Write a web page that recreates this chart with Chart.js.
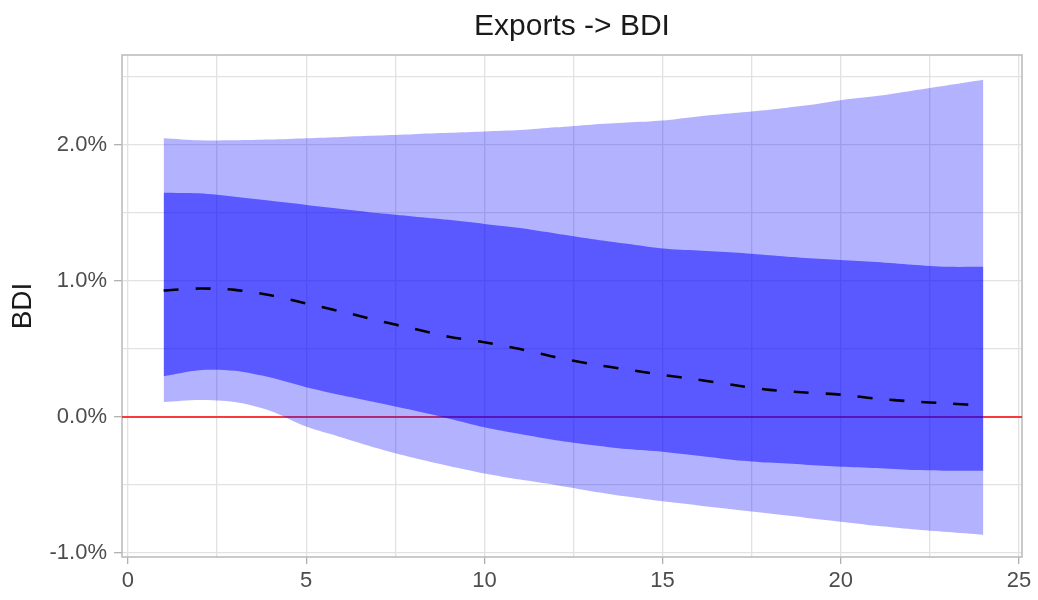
<!DOCTYPE html>
<html lang="en">
<head>
  <meta charset="UTF-8" />
  <title>Exports -> BDI</title>
  <script src="https://cdn.jsdelivr.net/npm/chart.js"></script>
  <style>
    body {
      margin: 0;
      background: #fff;
      font-family: "Liberation Sans", Arial, sans-serif;
    }
    .chart-container {
      width: 1038px;
      height: 600px;
    }
  </style>
</head>
<body>
  <div class="chart-container">
    <canvas id="irf"></canvas>
  </div>

  <script>
    const chartTitle = 'Exports -> BDI';

    // horizon (periods after the shock)
    const horizon = [1, 2, 3, 4, 5, 6, 7, 8, 9, 10, 11, 12, 13, 14, 15, 16, 17, 18, 19, 20, 21, 22, 23, 24];

    // impulse response, in %
    const irf = [0.93, 0.945, 0.935, 0.895, 0.835, 0.775, 0.71, 0.65, 0.59, 0.55, 0.50, 0.44,
                 0.39, 0.35, 0.31, 0.275, 0.235, 0.20, 0.18, 0.165, 0.135, 0.115, 0.10, 0.085];

    // wide band
    const outerUpper = [2.05, 2.035, 2.035, 2.04, 2.05, 2.06, 2.07, 2.08, 2.09, 2.10, 2.11, 2.13,
                        2.15, 2.165, 2.18, 2.21, 2.235, 2.26, 2.29, 2.33, 2.36, 2.40, 2.44, 2.48];
    const outerLower = [0.11, 0.125, 0.11, 0.045, -0.07, -0.15, -0.23, -0.30, -0.36, -0.415, -0.46, -0.50,
                        -0.545, -0.585, -0.62, -0.65, -0.68, -0.71, -0.74, -0.77, -0.80, -0.825, -0.845, -0.865];

    // narrow band
    const innerUpper = [1.65, 1.645, 1.62, 1.59, 1.56, 1.53, 1.50, 1.475, 1.45, 1.42, 1.39, 1.35,
                        1.31, 1.275, 1.24, 1.225, 1.21, 1.19, 1.17, 1.155, 1.14, 1.12, 1.105, 1.105];
    const innerLower = [0.30, 0.345, 0.34, 0.29, 0.22, 0.16, 0.105, 0.05, -0.01, -0.075, -0.125, -0.17,
                        -0.205, -0.235, -0.255, -0.285, -0.315, -0.335, -0.35, -0.365, -0.375, -0.39, -0.395, -0.395];

    const xTicks = [0, 5, 10, 15, 20, 25];
    const yTicks = [-1, 0, 1, 2];

    const xy = arr => horizon.map((h, i) => ({ x: h, y: arr[i] }));
    const FONT = '"Liberation Sans", Arial, sans-serif';

    // gray frame around the plot panel + title centred over the panel
    const panelDecor = {
      id: 'panelDecor',
      beforeDatasetsDraw(chart) {
        const { ctx, chartArea: a } = chart;
        ctx.save();
        ctx.strokeStyle = '#bdbdbd';
        ctx.lineWidth = 1.6;
        ctx.strokeRect(a.left, a.top, a.right - a.left, a.bottom - a.top);
        ctx.restore();
      },
      afterDraw(chart) {
        const { ctx, chartArea: a } = chart;
        ctx.save();
        ctx.fillStyle = '#1a1a1a';
        ctx.font = '30px ' + FONT;
        ctx.textAlign = 'center';
        ctx.textBaseline = 'alphabetic';
        ctx.fillText(chartTitle, (a.left + a.right) / 2, 35);
        ctx.restore();
      }
    };

    const isMajor = (v, list) => list.some(t => Math.abs(t - v) < 1e-6);

    new Chart(document.getElementById('irf').getContext('2d'), {
      type: 'line',
      data: {
        datasets: [
          {
            data: xy(outerLower),
            borderWidth: 0,
            pointRadius: 0,
            fill: false,
            tension: 0.3,
            order: 5
          },
          {
            data: xy(outerUpper),
            borderWidth: 0,
            pointRadius: 0,
            fill: '-1',
            backgroundColor: 'rgba(0, 0, 255, 0.3)',
            tension: 0.3,
            order: 5
          },
          {
            data: xy(innerLower),
            borderWidth: 0,
            pointRadius: 0,
            fill: false,
            tension: 0.3,
            order: 3
          },
          {
            data: xy(innerUpper),
            borderWidth: 0,
            pointRadius: 0,
            fill: '-1',
            backgroundColor: 'rgba(0, 0, 255, 0.5)',
            tension: 0.3,
            order: 3
          },
          {
            data: xy(irf),
            borderColor: '#000',
            borderWidth: 2.6,
            borderDash: [15, 17],
            pointRadius: 0,
            fill: false,
            tension: 0.3,
            order: 0
          },
          {
            // zero line, drawn under the bands
            data: [{ x: -1, y: 0 }, { x: 26, y: 0 }],
            borderColor: '#ff0000',
            borderWidth: 1.5,
            pointRadius: 0,
            fill: false,
            order: 10
          }
        ]
      },
      options: {
        responsive: true,
        maintainAspectRatio: false,
        animation: false,
        layout: { padding: { left: 0, right: 16, top: 55, bottom: 0 } },
        scales: {
          x: {
            type: 'linear',
            min: -0.168,
            max: 25.084,
            afterFit: s => { s.height = 43; },
            border: { display: false },
            grid: {
              color: '#e2e2e2',
              lineWidth: 1.3,
              tickLength: 7,
              tickColor: c => isMajor(c.tick.value, xTicks) ? '#b0b0b0' : 'rgba(0,0,0,0)',
              tickWidth: 1.3
            },
            ticks: {
              stepSize: 2.5,
              includeBounds: false,
              autoSkip: false,
              maxRotation: 0,
              padding: 4,
              color: '#4d4d4d',
              font: { family: FONT, size: 22 },
              callback: v => isMajor(v, xTicks) ? String(v) : ''
            }
          },
          y: {
            min: -1.029,
            max: 2.662,
            afterFit: s => { s.width = 122; },
            border: { display: false },
            grid: {
              color: '#e2e2e2',
              lineWidth: 1.3,
              tickLength: 8,
              tickColor: c => isMajor(c.tick.value, yTicks) ? '#b0b0b0' : 'rgba(0,0,0,0)',
              tickWidth: 1.3
            },
            ticks: {
              stepSize: 0.5,
              includeBounds: false,
              autoSkip: false,
              padding: 7,
              color: '#4d4d4d',
              font: { family: FONT, size: 22 },
              callback: v => isMajor(v, yTicks) ? v.toFixed(1) + '%' : ''
            },
            title: {
              display: true,
              text: 'BDI',
              color: '#1a1a1a',
              padding: { top: 6, bottom: 0 },
              font: { family: FONT, size: 28 }
            }
          }
        },
        plugins: {
          legend: { display: false },
          tooltip: { enabled: false },
          title: { display: false }
        }
      },
      plugins: [panelDecor]
    });
  </script>
</body>
</html>
